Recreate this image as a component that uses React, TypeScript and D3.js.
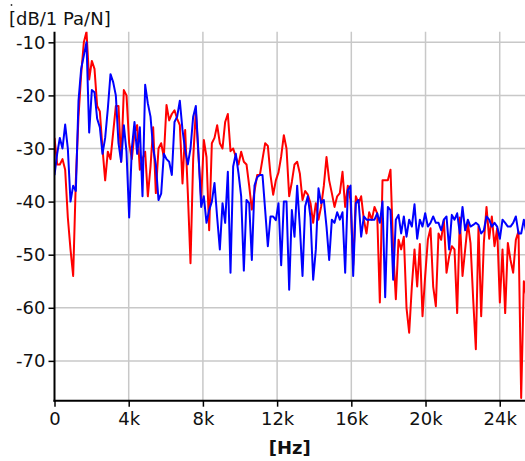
import React, { useRef, useEffect } from "react";
import * as d3 from "d3";

// spectrum bins, Hz per bin
const binWidthHz = 143.75;

// red trace, dB per bin
const redDb = [
  -28, -33, -33, -32, -34, -43, -49, -54, -36, -24, -16, -10, -8, -17, -13.5, -15,
  -22, -23, -30, -36, -30.6, -32, -27, -22, -22, -32.5, -19, -20, -29, -32, -27, -25.6,
  -34, -32, -30.6, -39, -33.4, -26, -38.4, -30, -29, -31.6, -21.8, -24.7, -23.5, -22.8, -24.4, -25.6,
  -36.6, -26.5, -38.4, -51.6, -32, -22.8, -31.6, -39.5, -28.4, -31.6, -45.4, -29, -28, -25.6, -29, -30,
  -25, -23.5, -30.5, -30, -31.6, -33, -30.6, -32.5, -33, -37, -41.5, -38, -35, -35, -32, -29,
  -29.5, -35, -38.7, -36, -34.5, -31.5, -27.5, -30, -39, -36.3, -33, -32.5, -34.7, -39.7, -38, -38.7,
  -40.3, -44, -40.3, -43.4, -40.9, -37, -31.6, -36, -38.4, -41, -39, -38.4, -34.4, -41, -37, -39.7,
  -52, -39, -40.3, -39, -43.4, -46, -42, -43.4, -41, -42.2, -59, -36, -36, -36, -34, -49,
  -58.4, -47.2, -49, -46.6, -60, -64.7, -56, -49, -56, -48, -61.6, -54, -47.2, -45, -56, -59.7,
  -46, -47.2, -43.4, -53.4, -50.3, -48.4, -49, -61, -43, -54, -49, -44, -47.8, -58.4, -67.8, -44.7,
  -61.6, -47.8, -41, -47, -42.8, -48.4, -45, -59, -49, -61, -47.8, -51, -53.4, -47.2, -45.6, -77,
  -55, -58,
];

// blue trace, dB per bin
const blueDb = [
  -35, -31, -28, -30, -25.5, -30, -40, -37, -38, -21, -15, -12.5, -10, -27, -19, -19.4,
  -24.4, -26, -31, -28, -22.5, -16, -17.5, -20, -29, -32.5, -25.6, -30.6, -43, -30, -25, -31,
  -26, -39, -18, -21.5, -24, -30, -33, -39.7, -38.5, -31, -32, -32.5, -35, -25, -24, -21,
  -26.5, -30.3, -33, -30, -24, -22, -31, -41, -39, -44, -41.6, -40, -36.5, -43, -49, -40.3,
  -44, -34.4, -53.4, -33.4, -31, -34.7, -39, -53, -39.7, -40.3, -51, -37, -35.4, -35, -35, -41.6,
  -48.4, -42.8, -42.8, -43.5, -40.3, -52, -40, -40, -56.6, -41.6, -46.6, -37, -44.7, -54, -40.9, -39,
  -43, -54.7, -49, -37.5, -40.3, -39.7, -44.7, -51, -43.4, -44, -42, -43.4, -42, -53.4, -37.8, -37,
  -54, -40.3, -39.7, -46.6, -42.8, -43.4, -43.4, -43.4, -43.4, -42.2, -44, -40, -58, -41, -41.6, -54.7,
  -43.4, -42.5, -46, -42.8, -46.6, -43.4, -44.7, -40.5, -47, -43.4, -44.7, -42.2, -44.7, -44, -42.8, -44,
  -44, -45.4, -43.4, -42.8, -49, -42.5, -43.4, -42.2, -46, -41, -45.4, -43.4, -44.7, -44.4, -44, -44.4,
  -46, -45.4, -42.8, -43.4, -44.7, -44, -44.7, -47, -43.4, -44, -44.7, -44.7, -44, -42.8, -46, -46,
  -43.4, -46,
];

const xTicks = [0, 4000, 8000, 12000, 16000, 20000, 24000];
const xTickLabels = ["0", "4k", "8k", "12k", "16k", "20k", "24k"];
const yTicks = [-10, -20, -30, -40, -50, -60, -70];

const yUnit = "[dB/1 Pa/N]";
const xUnit = "[Hz]";

const W = 525;
const H = 461;
const FONT = "'DejaVu Sans', Verdana, sans-serif";

const Chart = () => {
  const svgRef = useRef<SVGSVGElement>(null);

  useEffect(() => {
    const svg = d3.select(svgRef.current);
    svg.selectAll("*").remove();

    const left = 54.5;
    const top = 31.7;
    const bottom = 400.7;

    const x = d3.scaleLinear().domain([0, 25400]).range([left, 525.7]);
    const y = d3.scaleLinear().domain([-77.5, -8]).range([bottom, top]);

    svg
      .append("defs")
      .append("clipPath")
      .attr("id", "plotclip")
      .append("rect")
      .attr("x", left)
      .attr("y", top)
      .attr("width", W - left)
      .attr("height", bottom - top);

    // grid
    const grid = svg.append("g").attr("stroke", "#c8c8c8").attr("stroke-width", 1.5);
    grid
      .selectAll("line.v")
      .data(xTicks.slice(1))
      .join("line")
      .attr("x1", (d) => x(d))
      .attr("x2", (d) => x(d))
      .attr("y1", top)
      .attr("y2", bottom);
    grid
      .selectAll("line.h")
      .data(yTicks)
      .join("line")
      .attr("class", "h")
      .attr("x1", left)
      .attr("x2", W)
      .attr("y1", (d) => y(d))
      .attr("y2", (d) => y(d));

    // traces
    const line = d3
      .line<number>()
      .x((d, i) => x(i * binWidthHz))
      .y((d) => y(d));

    const traces = svg.append("g").attr("clip-path", "url(#plotclip)");
    traces
      .append("path")
      .datum(redDb)
      .attr("fill", "none")
      .attr("stroke", "#ff0000")
      .attr("stroke-width", 2)
      .attr("stroke-linejoin", "round")
      .attr("d", line);
    traces
      .append("path")
      .datum(blueDb)
      .attr("fill", "none")
      .attr("stroke", "#0000ff")
      .attr("stroke-width", 2)
      .attr("stroke-linejoin", "round")
      .attr("d", line);

    // axes
    const yAxis = d3
      .axisLeft(y)
      .tickValues(yTicks)
      .tickSize(6)
      .tickPadding(3)
      .tickFormat((d) => String(d));
    const gy = svg.append("g").attr("transform", `translate(${left},0)`).call(yAxis);
    gy.select(".domain").remove();
    gy.selectAll("line").attr("stroke", "#000").attr("stroke-width", 1.5);
    gy.selectAll("text")
      .attr("font-family", FONT)
      .attr("font-size", 18)
      .attr("fill", "#111");

    const xAxis = d3
      .axisBottom(x)
      .tickValues(xTicks)
      .tickSize(6)
      .tickPadding(6)
      .tickFormat((d, i) => xTickLabels[i]);
    const gx = svg.append("g").attr("transform", `translate(0,${bottom})`).call(xAxis);
    gx.select(".domain").remove();
    gx.selectAll("line").attr("stroke", "#000").attr("stroke-width", 1.5);
    gx.selectAll("text")
      .attr("font-family", FONT)
      .attr("font-size", 18)
      .attr("fill", "#111");

    svg
      .append("line")
      .attr("x1", left)
      .attr("x2", left)
      .attr("y1", top)
      .attr("y2", bottom + 1)
      .attr("stroke", "#000")
      .attr("stroke-width", 2);
    svg
      .append("line")
      .attr("x1", left - 1)
      .attr("x2", W)
      .attr("y1", bottom)
      .attr("y2", bottom)
      .attr("stroke", "#000")
      .attr("stroke-width", 2);

    // unit labels
    svg
      .append("text")
      .attr("x", 9)
      .attr("y", 25)
      .attr("font-family", FONT)
      .attr("font-size", 18)
      .attr("fill", "#111")
      .text(yUnit);

    svg
      .append("text")
      .attr("x", (left + W) / 2)
      .attr("y", 454)
      .attr("text-anchor", "middle")
      .attr("font-family", FONT)
      .attr("font-size", 18)
      .attr("font-weight", "bold")
      .attr("fill", "#111")
      .text(xUnit);

    svg
      .append("circle")
      .attr("cx", 11.5)
      .attr("cy", 5)
      .attr("r", 0.9)
      .attr("fill", "#333");
  }, []);

  return (
    <svg
      ref={svgRef}
      width={W}
      height={H}
      style={{ position: "absolute", left: 0, top: 0, background: "#fff" }}
    />
  );
};

export default function App() {
  return <Chart />;
}
